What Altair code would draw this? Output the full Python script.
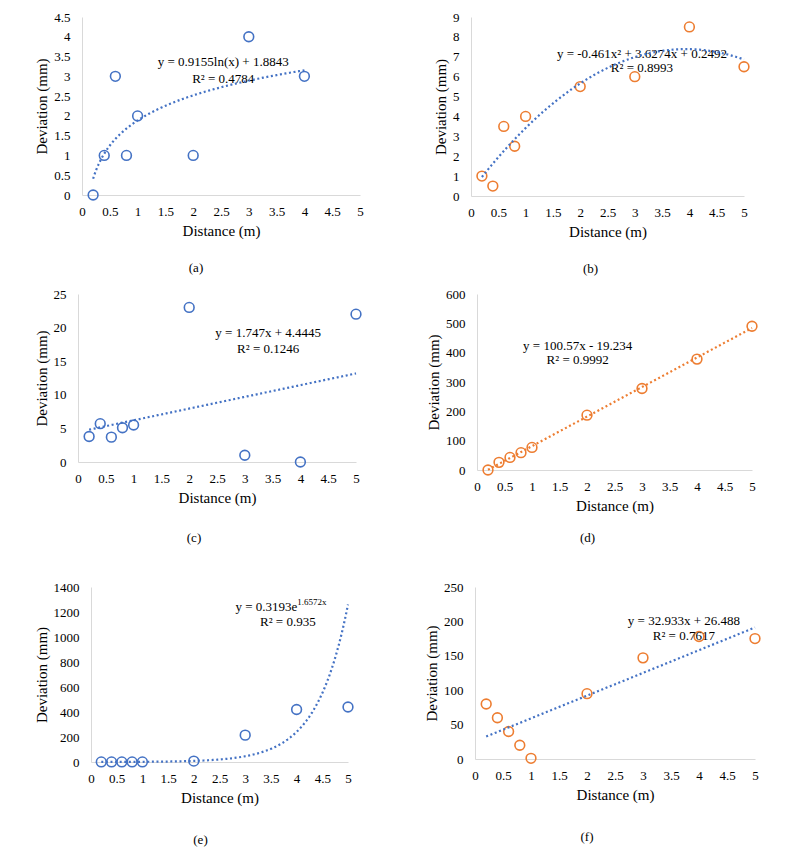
import altair as alt
import numpy as np
import pandas as pd

FONT = "Liberation Serif"
BLUE = "#4472C4"
ORANGE = "#ED7D31"

# ---- data ----
distance_a = [0.2, 0.4, 0.6, 0.8, 1, 2, 3, 4]
deviation_a = [0, 1, 3, 1, 2, 1, 4, 3]

distance = [0.2, 0.4, 0.6, 0.8, 1, 2, 3, 4, 5]
deviation_b = [1, 0.5, 3.5, 2.5, 4, 5.5, 6, 8.5, 6.5]
deviation_c = [3.8, 5.7, 3.7, 5.1, 5.5, 23, 1, 0, 22]
deviation_d = [0, 26, 43, 59, 77, 187, 278, 378, 490]
deviation_e = [0.8, 0.7, 0.7, 0.7, 0.75, 7.2, 215, 420, 440]
deviation_f = [80, 60, 40, 20, 1, 95, 147, 178, 175]

x_ticks = [0, 0.5, 1, 1.5, 2, 2.5, 3, 3.5, 4, 4.5, 5]
y_ticks_a = [0, 0.5, 1, 1.5, 2, 2.5, 3, 3.5, 4, 4.5]
y_ticks_b = [0, 1, 2, 3, 4, 5, 6, 7, 8, 9]
y_ticks_c = [0, 5, 10, 15, 20, 25]
y_ticks_d = [0, 100, 200, 300, 400, 500, 600]
y_ticks_e = [0, 200, 400, 600, 800, 1000, 1200, 1400]
y_ticks_f = [0, 50, 100, 150, 200, 250]

eq_a = ["y = 0.9155ln(x) + 1.8843", "R² = 0.4784"]
eq_b = ["y = -0.461x² + 3.6274x + 0.2492", "R² = 0.8993"]
eq_c = ["y = 1.747x + 4.4445", "R² = 0.1246"]
eq_d = ["y = 100.57x - 19.234", "R² = 0.9992"]
eq_e = ["y = 0.3193e", "1.6572x", "R² = 0.935"]
eq_f = ["y = 32.933x + 26.488", "R² = 0.7617"]

captions = ["(a)", "(b)", "(c)", "(d)", "(e)", "(f)"]


def trend(xs, ys, kind, n=160):
    x = np.array(xs, dtype=float)
    y = np.array(ys, dtype=float)
    grid = np.linspace(x.min(), x.max(), n)
    if kind == "log":
        b, a = np.polyfit(np.log(x), y, 1)
        yg = a + b * np.log(grid)
    elif kind == "poly2":
        yg = np.polyval(np.polyfit(x, y, 2), grid)
    elif kind == "exp":
        b, la = np.polyfit(x, np.log(y), 1)
        yg = np.exp(la + b * grid)
    else:
        yg = np.polyval(np.polyfit(x, y, 1), grid)
    return pd.DataFrame({"x": grid, "y": yg})


AX = dict(
    format="~f", domainColor="#D9D9D9", domainWidth=1, ticks=False, grid=False,
    labelFont=FONT, labelFontSize=13, labelColor="#000",
    labelFlush=False, labelOverlap=False,
    titleFont=FONT, titleFontSize=15, titleFontWeight="normal", titleColor="#000",
)


def panel(xs, ys, kind, pcolor, lcolor, yticks, labels, caption, w, h, cap_dx, cap_off):
    xsc = alt.Scale(domain=[0, 5], nice=False, zero=True)
    ysc = alt.Scale(domain=[0, yticks[-1]], nice=False, zero=True)
    X = alt.X("x:Q", scale=xsc,
              axis=alt.Axis(values=x_ticks, title="Distance (m)",
                            labelPadding=10, titlePadding=5, **AX))
    Y = alt.Y("y:Q", scale=ysc,
              axis=alt.Axis(values=yticks, title="Deviation (mm)",
                            labelPadding=12, titlePadding=4, **AX))
    pts = alt.Chart(pd.DataFrame({"x": xs, "y": ys})).mark_point(
        shape="circle", filled=False, size=95, strokeWidth=1.6,
        color=pcolor, opacity=1).encode(x=X, y=Y)
    layers = [pts]
    for lb in labels:
        layers.append(
            alt.Chart(pd.DataFrame([{"x": lb["x"], "y": lb["y"], "t": lb["text"]}])).mark_text(
                font=FONT, fontSize=lb.get("size", 13), align=lb.get("align", "center"),
                baseline="middle", dy=lb.get("dy", 0), color="#000"
            ).encode(x=X, y=Y, text="t:N")
        )
    line = alt.Chart(trend(xs, ys, kind)).mark_line(
        color=lcolor, strokeDash=[2, 2.6], strokeWidth=2.2).encode(x=X, y=Y)
    layers.append(line)
    return alt.layer(*layers).properties(
        width=w, height=h,
        title=alt.TitleParams(caption, orient="bottom", frame="group", anchor="middle",
                              dx=cap_dx, offset=cap_off, font=FONT, fontSize=13,
                              fontWeight="normal", color="#000"))


def spacer():
    # invisible 1px cell so that every row is aligned by its left edge
    return alt.Chart(pd.DataFrame({"s": [0]})).mark_point(size=0, opacity=0).encode(
        x=alt.value(0), y=alt.value(0)).properties(width=1, height=1)


pa = panel(distance_a, deviation_a, "log", BLUE, BLUE, y_ticks_a,
           [dict(text=eq_a[0], x=2.54, y=3.36), dict(text=eq_a[1], x=2.54, y=2.93)],
           captions[0], 278, 178, -25, 24)
pb = panel(distance, deviation_b, "poly2", ORANGE, BLUE, y_ticks_b,
           [dict(text=eq_b[0], x=3.13, y=7.12), dict(text=eq_b[1], x=3.13, y=6.45)],
           captions[1], 273, 179, -17, 24)
pc = panel(distance, deviation_c, "linear", BLUE, BLUE, y_ticks_c,
           [dict(text=eq_c[0], x=3.42, y=19.25), dict(text=eq_c[1], x=3.42, y=16.86)],
           captions[2], 278, 168, -23, 27)
pdd = panel(distance, deviation_d, "linear", ORANGE, ORANGE, y_ticks_d,
            [dict(text=eq_d[0], x=1.83, y=421.6), dict(text=eq_d[1], x=1.83, y=376)],
            captions[3], 275, 176, -27, 19)
pe = panel(distance, deviation_e, "exp", BLUE, BLUE, y_ticks_e,
           [dict(text=eq_e[0], x=4.015, y=1237, align="right"),
            dict(text=eq_e[1], x=4.015, y=1237, align="left", size=9, dy=-5),
            dict(text=eq_e[2], x=3.83, y=1120)],
           captions[4], 257, 175, -19, 29)
pf = panel(distance, deviation_f, "linear", ORANGE, BLUE, y_ticks_f,
           [dict(text=eq_f[0], x=3.73, y=201), dict(text=eq_f[1], x=3.73, y=178.8)],
           captions[5], 280, 172, -28, 29)

row1 = alt.hconcat(spacer(), alt.hconcat(pa, pb, spacing=69), spacing=0)
row2 = alt.hconcat(spacer(), alt.hconcat(pc, pdd, spacing=61), spacing=0)
row3 = alt.hconcat(spacer(), alt.hconcat(pe, pf, spacing=67), spacing=0)
top = alt.vconcat(row1, row2, spacing=12)

chart = alt.vconcat(top, row3, spacing=36).properties(
    padding={"left": 25, "top": 3, "right": 0, "bottom": 0},
    background="white",
).configure_view(strokeWidth=0)

chart.save("out.html", embed_options={"renderer": "svg", "actions": False})
